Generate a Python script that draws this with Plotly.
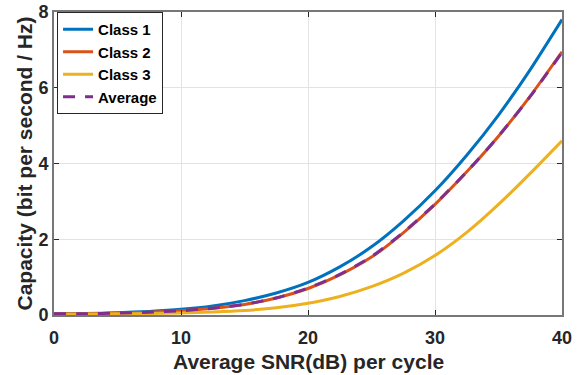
import plotly.graph_objects as go

snr_db = [0, 2.5, 5, 7.5, 10, 12.5, 15, 17.5, 20, 22.5, 25, 27.5, 30, 32.5, 35, 37.5, 40]
class1 = [0.03, 0.04, 0.06, 0.095, 0.15, 0.24, 0.38, 0.58, 0.86, 1.27, 1.80, 2.48, 3.28, 4.22, 5.28, 6.48, 7.80]
class2 = [0.03, 0.035, 0.05, 0.075, 0.11, 0.18, 0.28, 0.45, 0.70, 1.06, 1.53, 2.17, 2.92, 3.78, 4.72, 5.78, 6.95]
class3 = [0.02, 0.025, 0.03, 0.04, 0.055, 0.08, 0.12, 0.19, 0.31, 0.49, 0.75, 1.10, 1.57, 2.18, 2.92, 3.74, 4.60]
average = [0.03, 0.035, 0.05, 0.075, 0.11, 0.18, 0.28, 0.45, 0.71, 1.07, 1.54, 2.18, 2.93, 3.78, 4.72, 5.77, 6.93]

names = ["Class 1", "Class 2", "Class 3", "Average"]
colors = ["#0072BD", "#D95319", "#EDB120", "#7E2F8E"]
series = [class1, class2, class3, average]
dashes = ["solid", "solid", "solid", "12px,10px"]

x_title = "Average SNR(dB) per cycle"
y_title = "Capacity (bit per second / Hz)"

FONT = "Liberation Sans, Arial, Helvetica, sans-serif"

fig = go.Figure()
for n, c, s, d in zip(names, colors, series, dashes):
    fig.add_trace(go.Scatter(x=snr_db, y=s, name=n, mode="lines",
                             line=dict(color=c, width=3, dash=d, shape="spline", smoothing=0.6)))

axis_common = dict(
    showgrid=True, gridcolor="#e3e3e3", gridwidth=1,
    showline=True, linecolor="#777777", linewidth=2, mirror="ticks",
    ticks="inside", ticklen=5, tickcolor="#262626", tickwidth=1,
    zeroline=False, automargin=False,
    tickfont=dict(family=FONT, size=18, color="#262626", weight="bold"),
)

title_font = dict(family=FONT, size=21, color="#262626", weight="bold")

fig.update_layout(
    width=582, height=375,
    margin=dict(l=54, r=20, t=12, b=60),
    paper_bgcolor="white", plot_bgcolor="white",
    showlegend=True,
    legend=dict(x=0.006, y=1.0, xanchor="left", yanchor="top",
                bgcolor="white", bordercolor="#262626", borderwidth=1,
                font=dict(family=FONT, size=15, color="black", weight="bold"),
                itemwidth=30, tracegroupgap=0),
    xaxis=dict(range=[0, 40], tickvals=[0, 10, 20, 30, 40], ticklabelstandoff=5, **axis_common),
    yaxis=dict(range=[0, 8], tickvals=[0, 2, 4, 6, 8], **axis_common),
    annotations=[
        dict(text=x_title, xref="paper", yref="paper", x=0.5, y=-0.152,
             xanchor="center", yanchor="middle", showarrow=False, font=title_font),
        dict(text=y_title, xref="paper", yref="paper", x=-0.059, y=0.5, textangle=-90,
             xanchor="center", yanchor="middle", showarrow=False, font=title_font),
    ],
)

fig.write_html("out.html")
